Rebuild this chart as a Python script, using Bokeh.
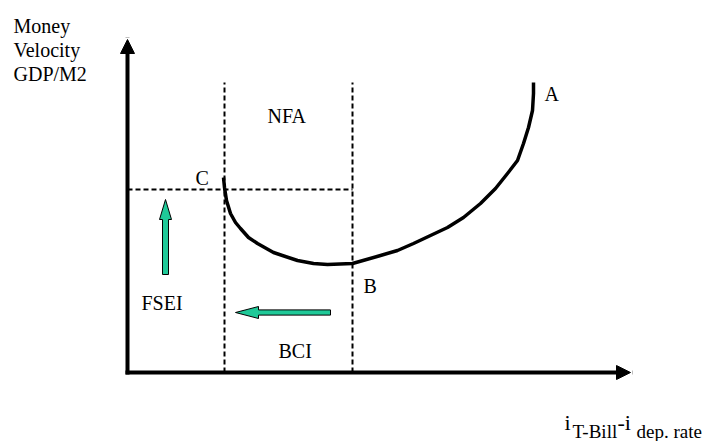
import math
from bokeh.plotting import figure
from bokeh.models import Range1d, Arrow, NormalHead, Label
from bokeh.embed import file_html
from bokeh.resources import INLINE

# ---- data (chart units: axis origin at 0,0) ----
curve_x = [1.92, 1.94, 1.98, 2.06, 2.16, 2.26, 2.42, 2.60, 2.92, 3.40, 3.72, 4.00, 4.50, 5.06,
           5.40, 5.72, 6.06, 6.40, 6.72, 7.06, 7.36, 7.60, 7.80, 7.92, 8.02, 8.10, 8.12, 8.12]
curve_y = [3.90, 3.70, 3.44, 3.18, 3.00, 2.88, 2.70, 2.58, 2.40, 2.24, 2.18, 2.16, 2.18, 2.34,
           2.44, 2.58, 2.74, 2.90, 3.10, 3.38, 3.68, 3.98, 4.24, 4.58, 4.90, 5.24, 5.58, 5.80]
region_bounds_x = [1.94, 4.50]   # vertical dashed lines (C and B)
c_level_y = 3.66                  # horizontal dashed line
region_top_y = 5.80
x_axis_end = 10.06
y_axis_end = 6.66
y_label_lines = ["Money", "Velocity", "GDP/M2"]
point_labels = ["A", "B", "C"]
region_labels = ["NFA", "FSEI", "BCI"]

# ---- layout helpers (image pixel -> chart units) ----
S = 50.0
OX, OY = 127.0, 372.0
def ux(px): return (px - OX) / S
def uy(py): return (OY - py) / S

W, H = 708, 441
p = figure(width=W, height=H, output_backend="svg", toolbar_location=None,
           x_range=Range1d(ux(0), ux(W)), y_range=Range1d(uy(H), uy(0)),
           x_axis_type=None, y_axis_type=None, min_border=0)
p.grid.visible = False
p.outline_line_color = None
p.background_fill_color = "white"
p.border_fill_color = "white"

FONT = "'Liberation Serif', 'Times New Roman', serif"
FS = "20px"
GREEN = "#1fc998"

# dashed reference lines
p.segment(x0=region_bounds_x, y0=[0, 0], x1=region_bounds_x, y1=[region_top_y, region_top_y],
          line_color="black", line_width=2, line_dash="5 3")
p.segment(x0=[0], y0=[c_level_y], x1=[region_bounds_x[1]], y1=[c_level_y],
          line_color="black", line_width=2, line_dash="5 3")

# curve
p.line(curve_x, curve_y, line_color="black", line_width=3.5, line_join="round")

# axes as arrows
for xe, ye in [(x_axis_end, 0), (0, y_axis_end)]:
    p.add_layout(Arrow(end=NormalHead(size=14, fill_color="black", line_color="black", line_width=1),
                       x_start=0, y_start=0, x_end=xe, y_end=ye,
                       line_width=4, line_color="black", line_cap="square"))

# block arrows (green)
def block_arrow(tail, tip, shaft_half, head_half, head_len):
    tx, ty = tail; hx, hy = tip
    dx, dy = hx - tx, hy - ty
    L = math.hypot(dx, dy)
    ex, ey = dx / L, dy / L
    nx, ny = -ey, ex
    bx, by = hx - ex * head_len, hy - ey * head_len
    pts = [
        (tx + nx * shaft_half, ty + ny * shaft_half),
        (bx + nx * shaft_half, by + ny * shaft_half),
        (bx + nx * head_half, by + ny * head_half),
        (hx, hy),
        (bx - nx * head_half, by - ny * head_half),
        (bx - nx * shaft_half, by - ny * shaft_half),
        (tx - nx * shaft_half, ty - ny * shaft_half),
    ]
    return [ux(a) for a, b in pts], [uy(b) for a, b in pts]

for tail, tip, sh, hh, hl in [((165, 274), (165, 199), 3, 6, 20), ((330, 312), (235, 312), 2.6, 6, 23)]:
    xs, ys = block_arrow(tail, tip, sh, hh, hl)
    p.patch(xs, ys, fill_color=GREEN, line_color="black", line_width=1)

def lab(text, px, py, size=FS):
    p.add_layout(Label(x=ux(px), y=uy(py), text=text, text_font=FONT, text_font_size=size,
                       text_color="black", text_align="left", text_baseline="alphabetic"))

# y label
for i, t in enumerate(y_label_lines):
    lab(t, 13, 25 + 24 * i)

# point labels
lab(point_labels[0], 544, 93)
lab(point_labels[1], 363, 285)
lab(point_labels[2], 195, 177)

# region labels
lab(region_labels[0], 267, 115)
lab(region_labels[1], 141, 302)
lab(region_labels[2], 278, 350)

# x label with subscripts
lab("i", 564, 422, "22px")
lab("T-Bill", 572, 431, "19px")
lab("-i", 617, 422, "22px")
lab("dep. rate", 636, 431, "19px")

open("out.html", "w").write(file_html(p, INLINE))
